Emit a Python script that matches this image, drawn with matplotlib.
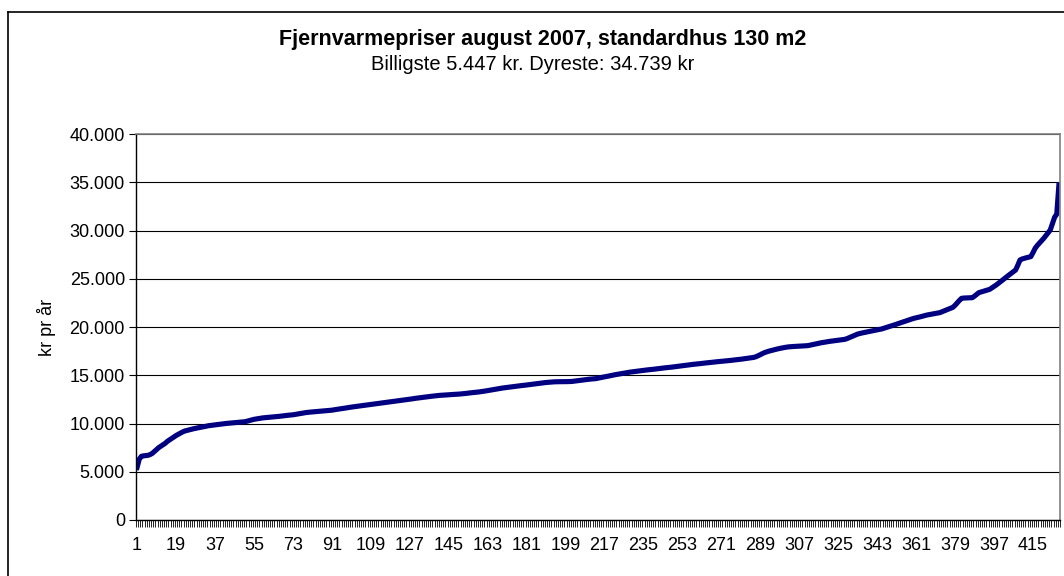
import matplotlib
matplotlib.use("Agg")
import matplotlib.pyplot as plt
from matplotlib.lines import Line2D
from matplotlib.ticker import FuncFormatter, FixedLocator

# sorted district heating prices (kr per year)
prices = [
    5447, 6300, 6600, 6650, 6680, 6700, 6780, 6900, 7100, 7300,
    7500, 7650, 7800, 7950, 8150, 8300, 8450, 8600, 8750, 8880,
    9000, 9120, 9220, 9280, 9330, 9390, 9450, 9500, 9540, 9590,
    9630, 9680, 9720, 9770, 9800, 9830, 9860, 9890, 9920, 9950,
    9970, 10000, 10020, 10040, 10060, 10080, 10100, 10120, 10150, 10170,
    10190, 10250, 10320, 10380, 10430, 10470, 10510, 10550, 10580, 10600,
    10620, 10640, 10660, 10680, 10700, 10720, 10750, 10780, 10810, 10840,
    10860, 10880, 10900, 10940, 10980, 11020, 11060, 11100, 11130, 11160,
    11180, 11200, 11220, 11240, 11260, 11280, 11300, 11310, 11330, 11350,
    11380, 11420, 11450, 11490, 11520, 11560, 11590, 11630, 11660, 11700,
    11730, 11760, 11790, 11820, 11850, 11880, 11910, 11940, 11970, 12000,
    12030, 12060, 12090, 12120, 12150, 12180, 12210, 12240, 12270, 12300,
    12330, 12360, 12390, 12420, 12460, 12490, 12520, 12550, 12590, 12620,
    12650, 12680, 12700, 12730, 12760, 12790, 12820, 12840, 12870, 12900,
    12920, 12930, 12950, 12960, 12980, 12990, 13010, 13020, 13040, 13050,
    13070, 13090, 13120, 13150, 13180, 13200, 13220, 13250, 13270, 13300,
    13340, 13370, 13410, 13450, 13490, 13520, 13560, 13600, 13640, 13680,
    13710, 13740, 13770, 13800, 13830, 13860, 13880, 13910, 13940, 13960,
    13990, 14020, 14050, 14080, 14100, 14130, 14160, 14190, 14220, 14250,
    14270, 14290, 14310, 14320, 14330, 14330, 14330, 14340, 14340, 14340,
    14350, 14360, 14390, 14420, 14450, 14480, 14510, 14540, 14570, 14590,
    14610, 14630, 14650, 14700, 14740, 14790, 14830, 14880, 14920, 14970,
    15010, 15060, 15100, 15150, 15190, 15230, 15270, 15300, 15330, 15360,
    15390, 15420, 15450, 15480, 15510, 15540, 15560, 15580, 15600, 15630,
    15660, 15690, 15720, 15740, 15770, 15790, 15820, 15840, 15870, 15890,
    15920, 15950, 15980, 16010, 16040, 16070, 16100, 16130, 16150, 16180,
    16200, 16230, 16250, 16280, 16300, 16320, 16350, 16380, 16400, 16420,
    16440, 16460, 16490, 16510, 16530, 16560, 16580, 16610, 16630, 16660,
    16690, 16720, 16750, 16780, 16800, 16850, 16920, 17020, 17130, 17250,
    17350, 17430, 17500, 17560, 17620, 17680, 17730, 17780, 17830, 17870,
    17910, 17940, 17960, 17980, 17990, 18000, 18010, 18030, 18040, 18060,
    18070, 18120, 18170, 18220, 18270, 18320, 18360, 18400, 18440, 18480,
    18510, 18540, 18570, 18600, 18630, 18660, 18690, 18720, 18790, 18880,
    18980, 19080, 19180, 19270, 19330, 19380, 19430, 19480, 19520, 19560,
    19610, 19660, 19710, 19750, 19790, 19860, 19930, 20000, 20070, 20140,
    20220, 20300, 20380, 20450, 20520, 20600, 20680, 20760, 20830, 20900,
    20950, 21000, 21060, 21120, 21180, 21240, 21280, 21320, 21360, 21400,
    21450, 21490, 21580, 21670, 21760, 21850, 21950, 22040, 22250, 22500,
    22750, 22970, 23000, 23010, 23020, 23030, 23040, 23200, 23380, 23560,
    23630, 23700, 23770, 23840, 23900, 24050, 24200, 24350, 24520, 24700,
    24870, 25050, 25230, 25400, 25570, 25740, 25910, 26400, 26940, 27050,
    27120, 27180, 27240, 27290, 27700, 28150, 28450, 28700, 28950, 29190,
    29480, 29770, 30050, 30700, 31370, 31700, 34739,
]
positions = list(range(1, len(prices) + 1))
label_positions = list(range(1, len(prices) + 1, 18))
y_ticks = [0, 5000, 10000, 15000, 20000, 25000, 30000, 35000, 40000]

title = "Fjernvarmepriser august 2007, standardhus 130 m2"
subtitle = "Billigste 5.447 kr. Dyreste: 34.739 kr"

plt.rcParams['font.family'] = ['Liberation Sans', 'DejaVu Sans']

fig = plt.figure(figsize=(10.64, 5.76), dpi=100)
ax = fig.add_axes([136 / 1064, 56 / 576, 924 / 1064, 386 / 576])

ax.plot(positions, prices, color='#000080', linewidth=3.7, solid_joinstyle='round')

ax.set_xlim(0.5, len(prices) + 0.5)
ax.set_ylim(0, 40000)

# y axis with dotted thousands separator
ax.set_yticks(y_ticks)
ax.yaxis.set_major_formatter(FuncFormatter(lambda v, p: f"{int(v):,}".replace(",", ".")))
ax.yaxis.grid(True, color='black', linewidth=0.8)
ax.set_axisbelow(True)
ax.set_ylabel("kr pr år", fontsize=13, labelpad=10)

# category axis: labels at centres, ticks at category boundaries
ax.set_xticks(label_positions)
ax.xaxis.set_minor_locator(FixedLocator([p + 0.5 for p in range(0, len(prices) + 1)]))
ax.tick_params(axis='x', which='major', length=0, pad=12, labelsize=13)
ax.tick_params(axis='x', which='minor', length=5, width=0.6, direction='out', color='black')
ax.tick_params(axis='y', which='major', length=5, width=0.8, direction='out', labelsize=13, pad=3)

for side in ['top', 'right']:
    ax.spines[side].set_color('#808080')
    ax.spines[side].set_linewidth(1.2)
for side in ['left', 'bottom']:
    ax.spines[side].set_color('black')
    ax.spines[side].set_linewidth(1.0)

fig.text(543 / 1064, 1 - 40 / 576, title, ha='center', va='center', fontsize=15.5, fontweight='bold')
fig.text(533 / 1064, 1 - 65 / 576, subtitle, ha='center', va='center', fontsize=14.5)

# outer chart frame
fig.add_artist(Line2D([8 / 1064, 8 / 1064], [0, 1 - 12 / 576], transform=fig.transFigure, color='black', linewidth=1.2))
fig.add_artist(Line2D([8 / 1064, 1], [1 - 12 / 576, 1 - 12 / 576], transform=fig.transFigure, color='black', linewidth=1.2))

fig.savefig("out.png", dpi=100)
